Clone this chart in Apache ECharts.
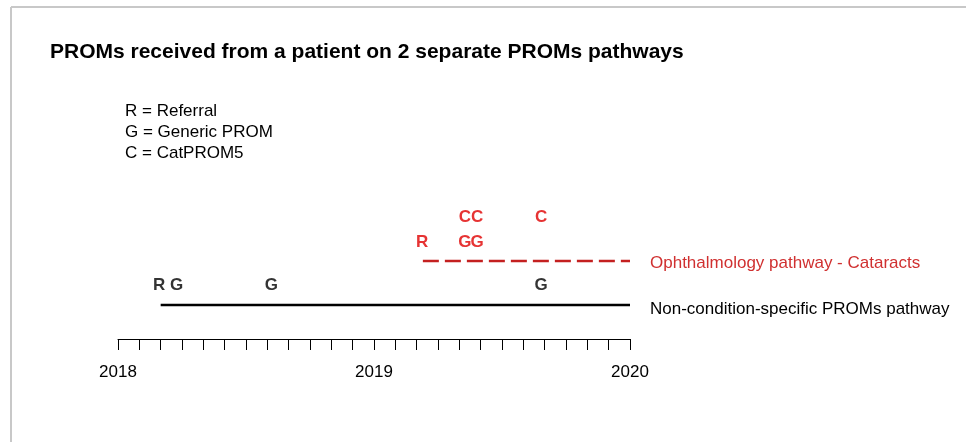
<!DOCTYPE html>
<html>
<head>
<meta charset="utf-8">
<script src="https://cdn.jsdelivr.net/npm/echarts@6/dist/echarts.min.js"></script>
<style>
html,body{margin:0;padding:0;background:#fff;}
#c{width:966px;height:442px;}
</style>
</head>
<body>
<div id="c"></div>
<script>
// ---- data ----
var titleText = 'PROMs received from a patient on 2 separate PROMs pathways';
var keyLines = ['R = Referral', 'G = Generic PROM', 'C = CatPROM5'];
var yearTicks = [2018, 2019, 2020];

var pathwayNames = ['Non-condition-specific PROMs pathway', 'Ophthalmology pathway - Cataracts'];
var pathwayStart = ['2018-03-01', '2019-03-10'];
var pathwayEnd = ['2020-01-01', '2020-01-01'];
var pathwayLevel = [1, 2];

// events on the generic pathway
var genericLetters = ['R', 'G', 'G', 'G'];
var genericDates = ['2018-02-27', '2018-03-24', '2018-08-07', '2019-08-27'];
var genericLevel = [1.45, 1.45, 1.45, 1.45];

// events on the cataract pathway
var catLetters = ['R', 'G', 'G', 'C', 'C', 'C'];
var catDates = ['2019-03-09', '2019-05-09', '2019-05-27', '2019-05-09', '2019-05-27', '2019-08-27'];
var catLevel = [2.43, 2.43, 2.43, 3.0, 3.0, 3.0];

// ---- helpers ----
function toMonths(s) {
  var p = s.split('-').map(Number);
  var dim = new Date(p[0], p[1], 0).getDate();
  return (p[0] - 2018) * 12 + (p[1] - 1) + (p[2] - 1) / dim;
}
function pts(letters, dates, levels) {
  return letters.map(function (l, i) { return { name: l, value: [toMonths(dates[i]), levels[i]] }; });
}

var FONT = 'Liberation Sans, Arial, sans-serif';
var chart = echarts.init(document.getElementById('c'), null, { renderer: 'canvas' });

var letterLabel = function (color) {
  return { show: true, position: 'inside', formatter: '{b}', color: color, fontFamily: FONT, fontWeight: 'bold', fontSize: 17 };
};

chart.setOption({
  animation: false,
  backgroundColor: '#fff',
  title: {
    text: titleText, left: 45, top: 37,
    textStyle: { fontFamily: FONT, fontWeight: 'bold', fontSize: 21, color: '#000' }
  },
  graphic: [
    { type: 'line', shape: { x1: 11, y1: 7, x2: 966, y2: 7 }, style: { stroke: '#c8c8c8', lineWidth: 2 } },
    { type: 'line', shape: { x1: 11, y1: 7, x2: 11, y2: 442 }, style: { stroke: '#c8c8c8', lineWidth: 2 } }
  ].concat(keyLines.map(function (t, i) {
    return { type: 'text', left: 125, top: 103 + i * 21, style: { text: t, fill: '#000', font: '17px "Liberation Sans", Arial, sans-serif' } };
  })),
  grid: { left: 118, right: 336, top: 195, bottom: 103 },
  xAxis: {
    type: 'value', min: 0, max: 24, interval: 1,
    axisLine: { show: true, onZero: false, lineStyle: { color: '#000', width: 1 } },
    axisTick: { show: true, length: 11, lineStyle: { color: '#000', width: 1 } },
    axisLabel: {
      margin: 25, showMinLabel: true, showMaxLabel: true, hideOverlap: false,
      color: '#000', fontSize: 17, fontFamily: FONT,
      formatter: function (v) { return v % 12 === 0 ? String(yearTicks[v / 12]) : ''; }
    },
    splitLine: { show: false }
  },
  yAxis: { type: 'value', min: 0.227, max: 3.5, show: false, splitLine: { show: false } },
  series: [
    {
      type: 'line', symbol: 'none', silent: true,
      data: [[toMonths(pathwayStart[0]), pathwayLevel[0]], [toMonths(pathwayEnd[0]), pathwayLevel[0]]],
      lineStyle: { color: '#000', width: 2.5 },
      endLabel: { show: true, formatter: pathwayNames[0], distance: 20, offset: [0, 4], color: '#000', fontSize: 17, fontFamily: FONT }
    },
    {
      type: 'line', symbol: 'none', silent: true,
      data: [[toMonths(pathwayStart[1]), pathwayLevel[1]], [toMonths(pathwayEnd[1]), pathwayLevel[1]]],
      lineStyle: { color: '#c42020', width: 2.5, type: [16, 6] },
      endLabel: { show: true, formatter: pathwayNames[1], distance: 20, offset: [0, 2], color: '#d03030', fontSize: 17, fontFamily: FONT }
    },
    {
      type: 'scatter', symbolSize: 0, silent: true,
      data: pts(genericLetters, genericDates, genericLevel),
      label: letterLabel('#000')
    },
    {
      type: 'scatter', symbolSize: 0, silent: true,
      data: pts(catLetters, catDates, catLevel),
      label: letterLabel('#e00000')
    }
  ]
});
</script>
</body>
</html>
